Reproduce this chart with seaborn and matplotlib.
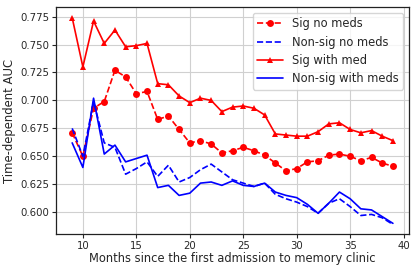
import matplotlib
matplotlib.use("Agg")
import matplotlib.pyplot as plt
import seaborn as sns
import numpy as np

months = list(range(9, 40))

sig_no_meds = [0.671, 0.650, 0.693, 0.699, 0.727, 0.721, 0.706, 0.708, 0.683, 0.686,
               0.674, 0.662, 0.664, 0.661, 0.653, 0.655, 0.658, 0.655, 0.651, 0.644,
               0.637, 0.639, 0.645, 0.646, 0.651, 0.652, 0.650, 0.646, 0.649, 0.644, 0.641]
nonsig_no_meds = [0.675, 0.650, 0.699, 0.662, 0.658, 0.634, 0.639, 0.645, 0.632, 0.642,
                  0.627, 0.631, 0.638, 0.643, 0.636, 0.629, 0.626, 0.623, 0.626, 0.616,
                  0.612, 0.609, 0.605, 0.599, 0.608, 0.612, 0.605, 0.597, 0.598, 0.595, 0.589]
sig_with_med = [0.774, 0.730, 0.771, 0.751, 0.763, 0.748, 0.749, 0.751, 0.715, 0.714,
                0.704, 0.698, 0.702, 0.700, 0.690, 0.694, 0.695, 0.693, 0.687, 0.670,
                0.669, 0.668, 0.668, 0.672, 0.679, 0.680, 0.674, 0.671, 0.673, 0.668, 0.664]
nonsig_with_meds = [0.662, 0.640, 0.702, 0.652, 0.660, 0.645, 0.648, 0.651, 0.622, 0.624,
                    0.615, 0.617, 0.626, 0.627, 0.624, 0.628, 0.624, 0.623, 0.626, 0.618,
                    0.615, 0.613, 0.607, 0.599, 0.608, 0.618, 0.612, 0.603, 0.602, 0.596, 0.590]

labels = ["Sig no meds", "Non-sig no meds", "Sig with med", "Non-sig with meds"]
yticks = [0.600, 0.625, 0.650, 0.675, 0.700, 0.725, 0.750, 0.775]
xticks = [10, 15, 20, 25, 30, 35, 40]

sns.set_style("whitegrid", {"axes.edgecolor": "#222222", "grid.color": "#d0d0d0",
                            "xtick.bottom": True, "ytick.left": True})
plt.rcParams['font.family'] = ['DejaVu Sans']

fig = plt.figure(figsize=(4.19, 2.73), dpi=100)
ax = fig.add_axes([0.134, 0.143, 0.842, 0.831])

sns.lineplot(x=months, y=sig_no_meds, ax=ax, color="red", linestyle="--", marker="o",
             markersize=5, markeredgewidth=0, linewidth=1.2, label=labels[0])
sns.lineplot(x=months, y=nonsig_no_meds, ax=ax, color="blue", linestyle="--",
             linewidth=1.2, label=labels[1])
sns.lineplot(x=months, y=sig_with_med, ax=ax, color="red", linestyle="-", marker="^",
             markersize=5, markeredgewidth=0, linewidth=1.2, label=labels[2])
sns.lineplot(x=months, y=nonsig_with_meds, ax=ax, color="blue", linestyle="-",
             linewidth=1.2, label=labels[3])

ax.set_xticks(xticks)
ax.set_yticks(yticks)
ax.set_yticklabels([f"{v:.3f}" for v in yticks])
ax.set_xlim(7.5, 40.5)
ax.set_ylim(0.5805, 0.7835)
ax.tick_params(labelsize=7.3, length=3, width=0.8, pad=2)
for s in ax.spines.values():
    s.set_linewidth(0.9)
ax.set_xlabel("Months since the first admission to memory clinic", fontsize=8.3, labelpad=1)
ax.set_ylabel("Time-dependent AUC", fontsize=8.4, labelpad=3)
ax.legend(loc="upper right", fontsize=8.3, frameon=True, handlelength=2.2,
          borderaxespad=0.5, labelspacing=0.45)

fig.savefig("out.png", dpi=100)
